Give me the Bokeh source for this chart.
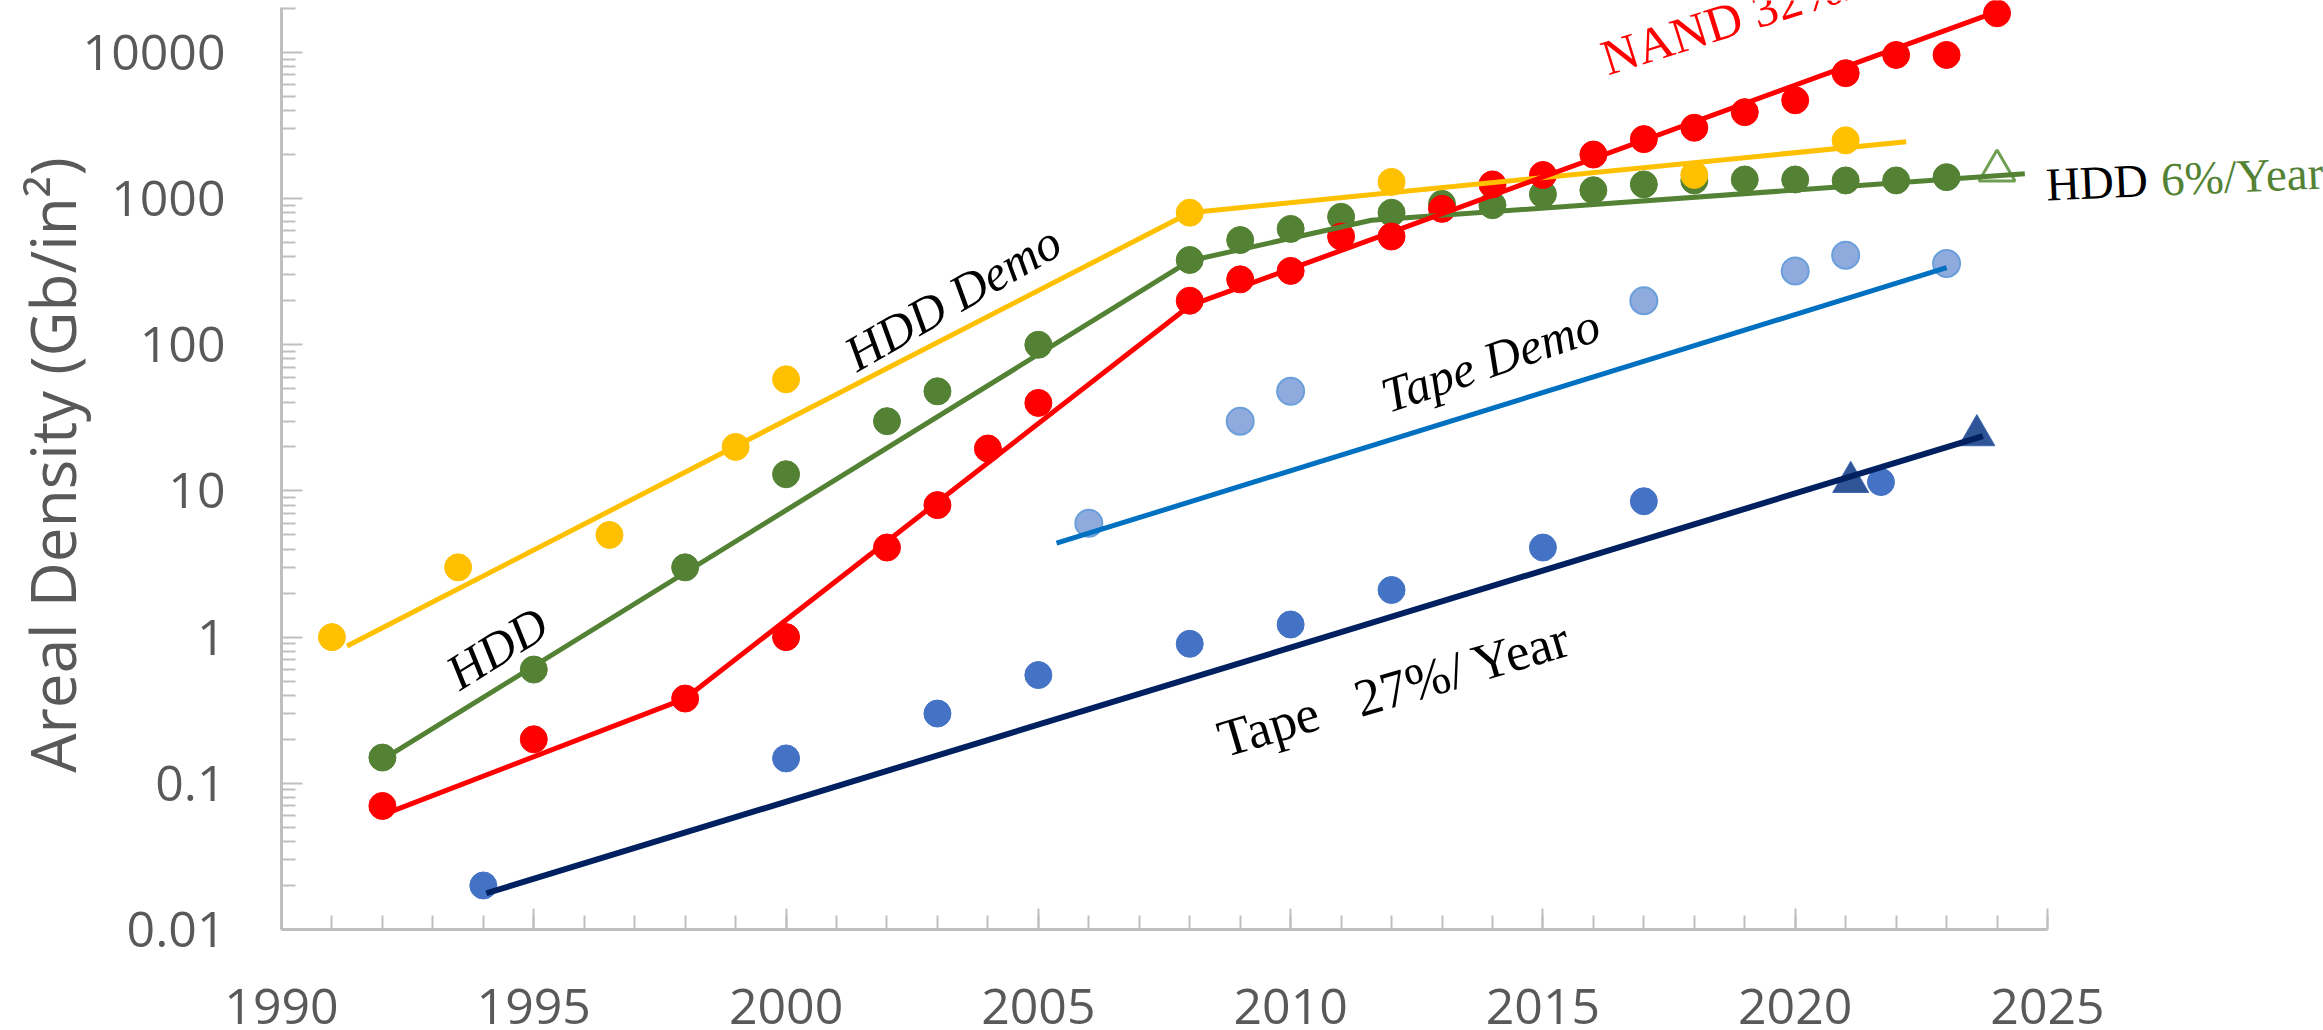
from bokeh.plotting import figure
from bokeh.models import Label, FixedTicker, CustomJSTickFormatter, Range1d
from bokeh.embed import file_html
from bokeh.resources import INLINE

# ---------------- data ----------------
hdd_demo_x = [1991, 1993.5, 1996.5, 1999, 2000, 2008, 2012, 2018, 2021]
hdd_demo_y = [1.0, 3.0, 5.0, 20, 58, 800, 1300, 1450, 2500]

hdd_x = [1992, 1995, 1998, 2000, 2002, 2003, 2005, 2008, 2009, 2010, 2011, 2012,
         2013, 2014, 2015, 2016, 2017, 2018, 2019, 2020, 2021, 2022, 2023]
hdd_y = [0.15, 0.6, 3.0, 13, 30, 48, 100, 380, 520, 620, 750, 800,
         920, 900, 1070, 1140, 1250, 1330, 1350, 1350, 1330, 1330, 1400]

hdd_new_x = [2024]
hdd_new_y = [1550]

nand_x = [1992, 1995, 1998, 2000, 2002, 2003, 2004, 2005, 2008, 2009, 2010, 2011, 2012,
          2013, 2014, 2015, 2016, 2017, 2018, 2019, 2020, 2021, 2022, 2023, 2024]
nand_y = [0.07, 0.2, 0.38, 1.0, 4.1, 8.0, 19.5, 40, 200, 280, 320, 550, 550,
          850, 1250, 1450, 2000, 2550, 3050, 3900, 4700, 7200, 9600, 9600, 18500]

tape_x = [1994, 2000, 2003, 2005, 2008, 2010, 2012, 2015, 2017, 2021.7]
tape_y = [0.02, 0.148, 0.3, 0.55, 0.9, 1.22, 2.1, 4.1, 8.5, 11.5]

tape_new_x = [2021.1, 2023.6]
tape_new_y = [11.5, 24]

tape_demo_x = [2006, 2009, 2010, 2017, 2020, 2021, 2023]
tape_demo_y = [6.0, 30, 48, 200, 320, 410, 360]

# trend lines
hdd_demo_trend_x = [1991.3, 2008, 2022.2]
hdd_demo_trend_y = [0.87, 800, 2450]
hdd_trend_x = [1992, 2008, 2011.6, 2024.55]
hdd_trend_y = [0.145, 375, 710, 1480]
nand_trend_x = [1991.9, 1998, 2008, 2024]
nand_trend_y = [0.059, 0.38, 185, 19000]
tape_trend_x = [1994.06, 2023.72]
tape_trend_y = [0.0177, 23.7]
tape_demo_trend_x = [2005.36, 2023.0]
tape_demo_trend_y = [4.39, 337]

x_ticks = [1990, 1995, 2000, 2005, 2010, 2015, 2020, 2025]
x_tick_labels = ["1990", "1995", "2000", "2005", "2010", "2015", "2020", "2025"]
y_ticks = [0.01, 0.1, 1, 10, 100, 1000, 10000]
y_tick_labels = ["0.01", "0.1", "1", "10", "100", "1000", "10000"]

# ---------------- figure ----------------
# the plotting frame runs past 2025 (and a little above the axis top) so that the
# notes are not clipped; the visible axes stop at their bounds
p = figure(x_range=Range1d(1990, 2030.47), y_range=Range1d(0.01, 10 ** 4.3547),
           y_axis_type="log", frame_width=2042, frame_height=929,
           min_border_left=281, min_border_right=0, min_border_top=0, min_border_bottom=0,
           output_backend="svg", toolbar_location=None)
p.outline_line_color = None
p.xgrid.grid_line_color = None
p.ygrid.grid_line_color = None
p.background_fill_color = "white"
p.border_fill_color = "white"

x_minor = list(range(1990, 2026))
y_minor = [k * t for t in y_ticks for k in range(2, 10)]
p.xaxis.ticker = FixedTicker(ticks=x_ticks, minor_ticks=x_minor)
p.yaxis.ticker = FixedTicker(ticks=y_ticks, minor_ticks=y_minor)
p.xaxis.bounds = (1990, 2025)
p.yaxis.bounds = (0.01, 10 ** 4.31)
p.xaxis.formatter = CustomJSTickFormatter(args=dict(vals=x_ticks, labs=x_tick_labels), code="""
for (let i = 0; i < vals.length; i++) { if (Math.abs(tick - vals[i]) < 1e-6) return labs[i]; }
return '';""")
p.yaxis.formatter = CustomJSTickFormatter(args=dict(vals=y_ticks, labs=y_tick_labels), code="""
for (let i = 0; i < vals.length; i++) { if (Math.abs(Math.log10(tick) - Math.log10(vals[i])) < 1e-6) return labs[i]; }
return '';""")

for ax in (p.xaxis[0], p.yaxis[0]):
    ax.axis_line_color = "#BFBFBF"
    ax.axis_line_width = 3
    ax.major_tick_line_color = "#BFBFBF"
    ax.major_tick_line_width = 2
    ax.minor_tick_line_color = "#BFBFBF"
    ax.minor_tick_line_width = 2
    ax.major_tick_in = 21
    ax.major_tick_out = 0
    ax.minor_tick_in = 14
    ax.minor_tick_out = 0
    ax.major_label_text_font = "Open Sans"
    ax.major_label_text_font_size = "50px"
    ax.major_label_text_color = "#595959"

p.yaxis.major_label_standoff = 56
p.xaxis.major_label_standoff = 59
p.yaxis.axis_label = "Areal Density (Gb/in²)"
p.yaxis.axis_label_text_font = "Open Sans"
p.yaxis.axis_label_text_font_size = "62px"
p.yaxis.axis_label_text_font_style = "normal"
p.yaxis.axis_label_text_color = "#595959"
p.yaxis.axis_label_standoff = -14

# ---------------- markers ----------------
p.scatter(tape_x, tape_y, marker="circle", size=27, fill_color="#4472C4", line_color="#4472C4")
p.scatter(tape_new_x, tape_new_y, marker="triangle", size=36, fill_color="#2F5597", line_color="#3F68B0")
p.scatter(tape_demo_x, tape_demo_y, marker="circle", size=27, fill_color="#8FAADC", line_color="#6A9FDB", line_width=2)
p.scatter(hdd_x, hdd_y, marker="circle", size=27, fill_color="#548235", line_color="#548235")
p.scatter(hdd_new_x, hdd_new_y, marker="triangle", size=36, fill_color=None, line_color="#6F9F52", line_width=3)
p.scatter(hdd_demo_x, hdd_demo_y, marker="circle", size=27, fill_color="#FFC000", line_color="#FFC000")
p.scatter(nand_x, nand_y, marker="circle", size=27, fill_color="#FF0000", line_color="#FF0000")

# ---------------- trend lines ----------------
p.line(tape_demo_trend_x, tape_demo_trend_y, line_color="#0070C0", line_width=5)
p.line(tape_trend_x, tape_trend_y, line_color="#002060", line_width=6)
p.line(hdd_trend_x, hdd_trend_y, line_color="#548235", line_width=5)
p.line(hdd_demo_trend_x, hdd_demo_trend_y, line_color="#FFC000", line_width=5)
p.line(nand_trend_x, nand_trend_y, line_color="#FF0000", line_width=5)

# ---------------- annotations ----------------
serif = "Liberation Serif"
def add_label(x, y, text, angle, size, color="black", style="normal"):
    p.add_layout(Label(x=x, y=y, text=text, angle=angle, angle_units="deg",
                       text_font=serif, text_font_size=size, text_color=color,
                       text_font_style=style, text_baseline="alphabetic", text_align="left"))

nb = "\u00a0"
add_label(2001.24, 81.5, "HDD Demo", 30, "50px", style="italic")
add_label(1993.36, 0.536, "HDD", 32, "50px", style="italic")
add_label(2011.83, 43.8, "Tape Demo", 19, "50px", style="italic")
add_label(2008.59, 0.197, "Tape" + nb * 3 + "27%/ Year", 16.5, "53px")
add_label(2016.19, 8950, "NAND 32%/Year", 17.5, "50px", color="#FF0000")
add_label(2024.97, 1248, "HDD", 2.5, "47px")
add_label(2027.25, 1349, "6%/Year", 2.5, "47px", color="#548235")

open("out.html", "w").write(file_html(p, INLINE))
